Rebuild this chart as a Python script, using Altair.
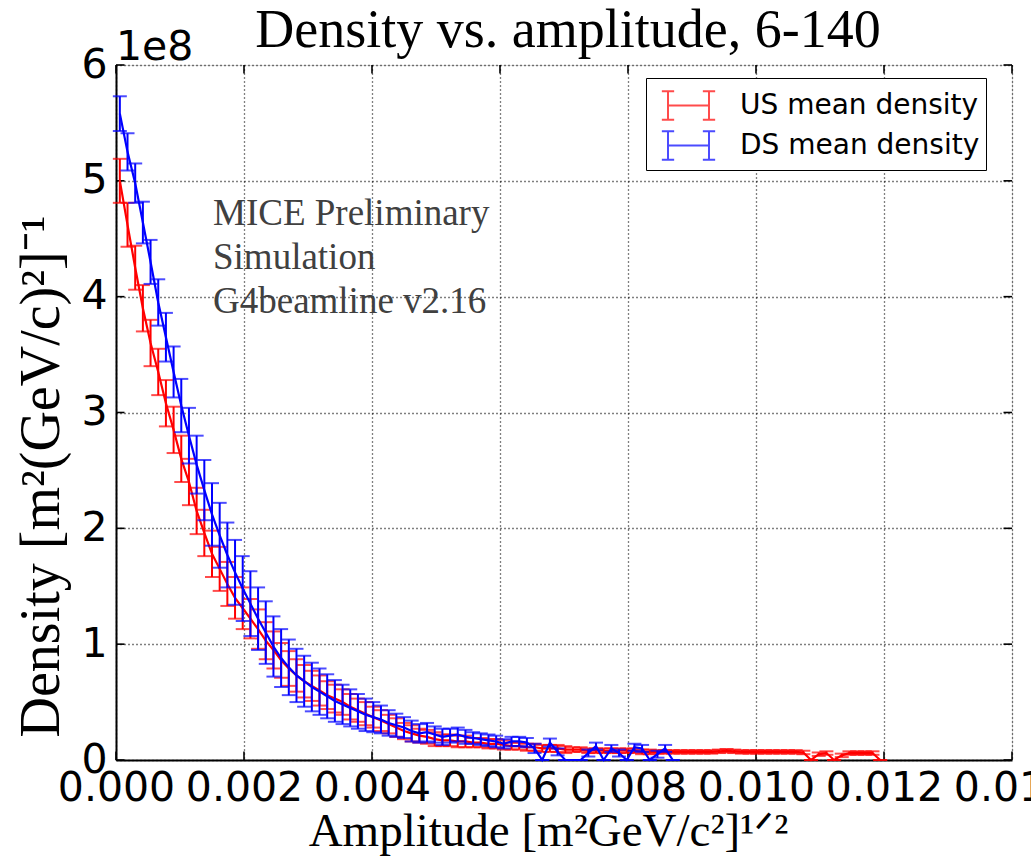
import altair as alt
import pandas as pd

# bin centres of amplitude, in units of 1e-4
amp_centres_e4 = [
    0.6, 1.8, 3.0, 4.2, 5.4, 6.6, 7.8, 9.0, 10.2, 11.4,
    12.6, 13.8, 15.0, 16.2, 17.4, 18.6, 19.8, 21.0, 22.2, 23.4,
    24.6, 25.8, 27.0, 28.2, 29.4, 30.6, 31.8, 33.0, 34.2, 35.4,
    36.6, 37.8, 39.0, 40.2, 41.4, 42.6, 43.8, 45.0, 46.2, 47.4,
    48.6, 49.8, 51.0, 52.2, 53.4, 54.6, 55.8, 57.0, 58.2, 59.4,
    60.6, 61.8, 63.0, 64.2, 65.4, 66.6, 67.8, 69.0, 70.2, 71.4,
    72.6, 73.8, 75.0, 76.2, 77.4, 78.6, 79.8, 81.0, 82.2, 83.4,
    84.6, 85.8, 87.0, 88.2, 89.4, 90.6, 91.8, 93.0, 94.2, 95.4,
    96.6, 97.8, 99.0, 100.2, 101.4, 102.6, 103.8, 105.0, 106.2, 107.4,
    108.6, 109.8, 111.0, 112.2, 113.4, 114.6, 115.8, 117.0, 118.2, 119.4,
]

# densities in units of 1e8
us_density = [
    5.00, 4.62, 4.25, 3.90, 3.60, 3.35, 3.08, 2.85, 2.60, 2.40,
    2.15, 1.96, 1.78, 1.65, 1.52, 1.40, 1.31, 1.22, 1.13, 1.03,
    0.95, 0.86, 0.79, 0.73, 0.68, 0.64, 0.60, 0.56, 0.53, 0.50,
    0.46, 0.43, 0.40, 0.37, 0.34, 0.31, 0.28, 0.25, 0.23, 0.21,
    0.20, 0.18, 0.17, 0.17, 0.16, 0.16, 0.15, 0.15, 0.14, 0.14,
    0.13, 0.12, 0.12, 0.11, 0.11, 0.10, 0.10, 0.10, 0.09, 0.09,
    0.09, 0.08, 0.08, 0.08, 0.08, 0.08, 0.08, 0.08, 0.07, 0.07,
    0.07, 0.07, 0.07, 0.07, 0.07, 0.07, 0.07, 0.07, 0.075, 0.08,
    0.075, 0.07, 0.07, 0.07, 0.07, 0.07, 0.07, 0.07, 0.07, 0.065,
    0.0, 0.05, 0.06, 0.0, 0.04, 0.06, 0.06, 0.06, 0.06, 0.0,
]
us_error = [
    0.19, 0.19, 0.19, 0.20, 0.20, 0.20, 0.20, 0.20, 0.20, 0.20,
    0.20, 0.20, 0.20, 0.19, 0.19, 0.18, 0.18, 0.17, 0.17, 0.16,
    0.16, 0.15, 0.15, 0.14, 0.14, 0.13, 0.13, 0.12, 0.12, 0.11,
    0.11, 0.10, 0.10, 0.09, 0.09, 0.08, 0.08, 0.07, 0.07, 0.06,
    0.06, 0.06, 0.05, 0.05, 0.05, 0.05, 0.04, 0.04, 0.04, 0.04,
    0.04, 0.03, 0.03, 0.03, 0.03, 0.03, 0.03, 0.03, 0.03, 0.02,
    0.02, 0.02, 0.02, 0.02, 0.02, 0.02, 0.02, 0.02, 0.02, 0.02,
    0.015, 0.015, 0.015, 0.015, 0.015, 0.015, 0.015, 0.015, 0.015, 0.015,
    0.015, 0.015, 0.015, 0.015, 0.015, 0.015, 0.015, 0.015, 0.015, 0.015,
    0.0, 0.015, 0.015, 0.0, 0.015, 0.015, 0.015, 0.015, 0.015, 0.0,
]
ds_density = [
    5.58, 5.25, 4.98, 4.64, 4.30, 3.95, 3.65, 3.35, 3.06, 2.80,
    2.55, 2.33, 2.12, 1.94, 1.77, 1.62, 1.48, 1.35, 1.22, 1.10,
    0.98, 0.88, 0.80, 0.73, 0.68, 0.63, 0.59, 0.55, 0.51, 0.48,
    0.45, 0.42, 0.39, 0.37, 0.35, 0.32, 0.30, 0.28, 0.25, 0.23,
    0.24, 0.22, 0.20, 0.21, 0.22, 0.20, 0.19, 0.18, 0.17, 0.16,
    0.14, 0.16, 0.16, 0.15, 0.10, 0.0, 0.15, 0.07, 0.0, 0.0,
    0.0, 0.06, 0.12, 0.0, 0.10, 0.06, 0.0, 0.11, 0.10, 0.0,
    0.05, 0.10, 0.0,
]
ds_error = [
    0.15, 0.16, 0.17, 0.18, 0.19, 0.20, 0.21, 0.22, 0.23, 0.24,
    0.25, 0.26, 0.27, 0.28, 0.28, 0.28, 0.28, 0.28, 0.27, 0.27,
    0.26, 0.25, 0.24, 0.23, 0.22, 0.21, 0.20, 0.19, 0.18, 0.17,
    0.16, 0.15, 0.14, 0.13, 0.12, 0.11, 0.10, 0.09, 0.09, 0.08,
    0.08, 0.07, 0.07, 0.06, 0.06, 0.06, 0.05, 0.05, 0.05, 0.05,
    0.04, 0.04, 0.04, 0.04, 0.04, 0.0, 0.035, 0.03, 0.0, 0.0,
    0.0, 0.03, 0.03, 0.0, 0.03, 0.03, 0.0, 0.03, 0.03, 0.0,
    0.03, 0.03, 0.0,
]

series_names = ["US mean density", "DS mean density"]
series_colors = ["#ff0000", "#0000ff"]
x_ticks = [0.0, 0.002, 0.004, 0.006, 0.008, 0.010, 0.012, 0.014]
y_ticks = [0, 1, 2, 3, 4, 5, 6]
x_range = [0.0, 0.014]
y_range = [0, 6]
note_lines = ["MICE Preliminary", "Simulation", "G4beamline v2.16"]
title_text = "Density vs. amplitude, 6-140"
x_title = "Amplitude [m²GeV/c²]¹ᐟ²"
y_title = "Density [m²(GeV/c)²]⁻¹"
exponent_text = "1e8"

rows = []
for name, dens, err in ((series_names[0], us_density, us_error),
                        (series_names[1], ds_density, ds_error)):
    for a, d, e in zip(amp_centres_e4, dens, err):
        rows.append(dict(series=name, amp=a * 1e-4, dens=d, lo=d - e, hi=d + e))
df = pd.DataFrame(rows)

# inward tick marks on all four sides of the frame (matplotlib style)
tick_len_x = (x_range[1] - x_range[0]) * 8.5 / 896
tick_len_y = (y_range[1] - y_range[0]) * 8.5 / 695
vt = []
for xv in x_ticks:
    vt.append(dict(x=xv, y=y_range[0], y2=y_range[0] + tick_len_y))
    vt.append(dict(x=xv, y=y_range[1] - tick_len_y, y2=y_range[1]))
vt_df = pd.DataFrame(vt)
ht = []
for yv in y_ticks:
    ht.append(dict(y=yv, x=x_range[0], x2=x_range[0] + tick_len_x))
    ht.append(dict(y=yv, x=x_range[1] - tick_len_x, x2=x_range[1]))
ht_df = pd.DataFrame(ht)

xscale = alt.Scale(domain=x_range, nice=False, zero=False)
yscale = alt.Scale(domain=y_range, nice=False)

xaxis = alt.Axis(
    values=x_ticks, format=".3f", labelFont="DejaVu Sans", labelFontSize=41,
    labelColor="black", labelPadding=8, labelFlush=False, labelOverlap=False,
    ticks=False, domainColor="black", domainWidth=2, grid=True,
    gridColor="black", gridDash=[1, 3], gridOpacity=1, gridWidth=1.3,
    title=x_title, titleFont="Liberation Serif", titleFontSize=47,
    titleFontWeight="normal", titleColor="black", titleX=432, titleY=85,
    titleBaseline="alphabetic", titleAlign="center",
)
yaxis = alt.Axis(
    values=y_ticks, format="d", labelFont="DejaVu Sans", labelFontSize=41,
    labelColor="black", labelPadding=9, labelFlush=False, labelOverlap=False,
    ticks=False, domainColor="black", domainWidth=2, grid=True,
    gridColor="black", gridDash=[1, 3], gridOpacity=1, gridWidth=1.3,
    title=y_title, titleFont="Liberation Serif", titleFontSize=56,
    titleFontWeight="normal", titleColor="black", titleAngle=270,
    titleX=-58, titleY=411, titleBaseline="alphabetic", titleAlign="center",
)

legend_path = ("M-1,-0.7L-1,0.7M1,-0.7L1,0.7M-1,0L1,0"
               "M-1.3,-0.7L-0.7,-0.7M-1.3,0.7L-0.7,0.7"
               "M0.7,-0.7L1.3,-0.7M0.7,0.7L1.3,0.7")

color = alt.Color(
    "series:N",
    scale=alt.Scale(domain=series_names, range=series_colors),
    legend=alt.Legend(
        title=None, orient="none", legendX=530, legendY=13,
        fillColor="white", strokeColor="black", padding=6,
        symbolType=legend_path, symbolSize=1681, symbolStrokeWidth=2,
        symbolOffset=15, labelOffset=30, labelFont="DejaVu Sans",
        labelFontSize=28, labelColor="black", rowPadding=0, labelLimit=400,
    ),
)

X = alt.X("amp:Q", scale=xscale, axis=xaxis)


def series_layers(name):
    base = alt.Chart(df).transform_filter(alt.datum.series == name)
    rule = base.mark_rule(strokeWidth=2).encode(
        x=X, y=alt.Y("lo:Q", scale=yscale, axis=yaxis), y2="hi:Q", color=color)
    cap_lo = base.mark_tick(orient="horizontal", size=14, thickness=2).encode(
        x=X, y=alt.Y("lo:Q", scale=yscale, axis=yaxis), color=color)
    cap_hi = base.mark_tick(orient="horizontal", size=14, thickness=2).encode(
        x=X, y=alt.Y("hi:Q", scale=yscale, axis=yaxis), color=color)
    line = base.mark_line(strokeWidth=2.2).encode(
        x=X, y=alt.Y("dens:Q", scale=yscale, axis=yaxis), color=color,
        order="amp:Q")
    return [rule, cap_lo, cap_hi, line]


vticks = alt.Chart(vt_df).mark_rule(color="black", strokeWidth=1.6).encode(
    x=alt.X("x:Q", scale=xscale, axis=xaxis),
    y=alt.Y("y:Q", scale=yscale, axis=yaxis), y2="y2:Q")
hticks = alt.Chart(ht_df).mark_rule(color="black", strokeWidth=1.6).encode(
    x=alt.X("x:Q", scale=xscale, axis=xaxis), x2="x2:Q",
    y=alt.Y("y:Q", scale=yscale, axis=yaxis))

exp_df = pd.DataFrame({"t": [exponent_text]})
exp_text = alt.Chart(exp_df).mark_text(
    font="DejaVu Sans", fontSize=41, align="left", baseline="alphabetic",
    color="black").encode(x=alt.value(0), y=alt.value(-5), text="t:N")

title_df = pd.DataFrame({"t": [title_text]})
title_mark = alt.Chart(title_df).mark_text(
    font="Liberation Serif", fontSize=54, align="center", baseline="alphabetic",
    color="black").encode(x=alt.value(452), y=alt.value(-18), text="t:N")

note_df = pd.DataFrame({"t": ["\n".join(note_lines)]})
note_text = alt.Chart(note_df).mark_text(
    font="Liberation Serif", fontSize=37, align="left", baseline="alphabetic",
    color="#404040", lineBreak="\n", lineHeight=44).encode(
    x=alt.value(97), y=alt.value(160), text="t:N")

chart = alt.layer(
    vticks, hticks,
    *series_layers(series_names[0]),
    *series_layers(series_names[1]),
    exp_text, title_mark, note_text,
).properties(
    width=896, height=695,
    padding={"left": 116, "top": 65, "right": 19, "bottom": 101},
    autosize=alt.AutoSizeParams(type="none"),
).configure_view(
    stroke="black", strokeWidth=2
).configure(background="white")

chart.save("out.html", embed_options={"renderer": "svg", "actions": False})
